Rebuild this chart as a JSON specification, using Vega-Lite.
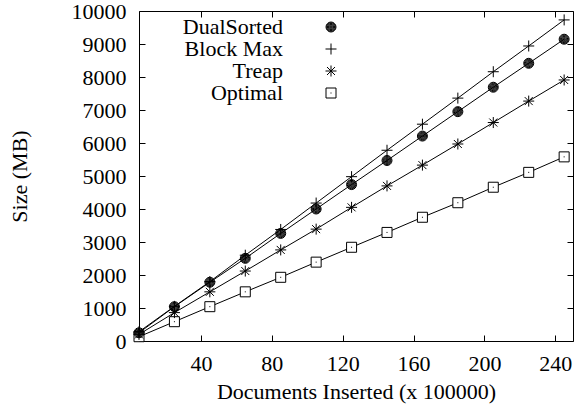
{
  "$schema": "https://vega.github.io/schema/vega-lite/v6.json",
  "width": 434,
  "height": 330,
  "autosize": {"type": "none"},
  "padding": {"left": 139, "top": 11, "right": 14, "bottom": 69},
  "background": "white",
  "config": {
    "view": {"stroke": "black", "strokeWidth": 1},
    "axis": {
      "labelFont": "Liberation Serif",
      "labelFontSize": 22,
      "labelColor": "black",
      "titleFont": "Liberation Serif",
      "titleFontSize": 22,
      "titleFontWeight": "normal",
      "titleColor": "black",
      "tickColor": "black",
      "tickSize": -6,
      "domain": false,
      "grid": false,
      "format": "d"
    }
  },
  "data": {
    "values": [
      {"x": 5, "series": "DualSorted", "y": 250},
      {"x": 25, "series": "DualSorted", "y": 1040},
      {"x": 45, "series": "DualSorted", "y": 1780},
      {"x": 65, "series": "DualSorted", "y": 2505},
      {"x": 85, "series": "DualSorted", "y": 3260},
      {"x": 105, "series": "DualSorted", "y": 4000},
      {"x": 125, "series": "DualSorted", "y": 4740},
      {"x": 145, "series": "DualSorted", "y": 5470},
      {"x": 165, "series": "DualSorted", "y": 6210},
      {"x": 185, "series": "DualSorted", "y": 6950},
      {"x": 205, "series": "DualSorted", "y": 7690},
      {"x": 225, "series": "DualSorted", "y": 8415},
      {"x": 245, "series": "DualSorted", "y": 9145},
      {"x": 5, "series": "Block Max", "y": 280},
      {"x": 25, "series": "Block Max", "y": 1050},
      {"x": 45, "series": "Block Max", "y": 1800},
      {"x": 65, "series": "Block Max", "y": 2600},
      {"x": 85, "series": "Block Max", "y": 3380},
      {"x": 105, "series": "Block Max", "y": 4180},
      {"x": 125, "series": "Block Max", "y": 4980},
      {"x": 145, "series": "Block Max", "y": 5780},
      {"x": 165, "series": "Block Max", "y": 6570},
      {"x": 185, "series": "Block Max", "y": 7360},
      {"x": 205, "series": "Block Max", "y": 8160},
      {"x": 225, "series": "Block Max", "y": 8940},
      {"x": 245, "series": "Block Max", "y": 9730},
      {"x": 5, "series": "Treap", "y": 200},
      {"x": 25, "series": "Treap", "y": 860},
      {"x": 45, "series": "Treap", "y": 1490},
      {"x": 65, "series": "Treap", "y": 2120},
      {"x": 85, "series": "Treap", "y": 2760},
      {"x": 105, "series": "Treap", "y": 3390},
      {"x": 125, "series": "Treap", "y": 4050},
      {"x": 145, "series": "Treap", "y": 4700},
      {"x": 165, "series": "Treap", "y": 5330},
      {"x": 185, "series": "Treap", "y": 5970},
      {"x": 205, "series": "Treap", "y": 6620},
      {"x": 225, "series": "Treap", "y": 7270},
      {"x": 245, "series": "Treap", "y": 7910},
      {"x": 5, "series": "Optimal", "y": 130},
      {"x": 25, "series": "Optimal", "y": 585},
      {"x": 45, "series": "Optimal", "y": 1040},
      {"x": 65, "series": "Optimal", "y": 1490},
      {"x": 85, "series": "Optimal", "y": 1930},
      {"x": 105, "series": "Optimal", "y": 2390},
      {"x": 125, "series": "Optimal", "y": 2840},
      {"x": 145, "series": "Optimal", "y": 3290},
      {"x": 165, "series": "Optimal", "y": 3750},
      {"x": 185, "series": "Optimal", "y": 4190},
      {"x": 205, "series": "Optimal", "y": 4660},
      {"x": 225, "series": "Optimal", "y": 5110},
      {"x": 245, "series": "Optimal", "y": 5580}
    ]
  },
  "resolve": {"axis": {"x": "independent", "y": "independent"}},
  "layer": [
    {
      "mark": {"type": "line", "color": "black", "strokeWidth": 1},
      "encoding": {
        "x": {
          "field": "x", "type": "quantitative",
          "scale": {"domain": [5, 250], "nice": false, "zero": false},
          "axis": {"orient": "bottom", "values": [40, 80, 120, 160, 200, 240], "title": "Documents Inserted (x 100000)", "labelPadding": 18, "titlePadding": 7}
        },
        "y": {
          "field": "y", "type": "quantitative",
          "scale": {"domain": [0, 10000], "nice": false},
          "axis": {"orient": "left", "values": [0, 1000, 2000, 3000, 4000, 5000, 6000, 7000, 8000, 9000, 10000], "title": "Size (MB)", "labelPadding": 19, "titlePadding": 40}
        },
        "detail": {"field": "series"}
      }
    },
    {
      "transform": [{"filter": "datum.series === 'Optimal'"}],
      "mark": {"type": "point", "shape": "square", "filled": true, "color": "white", "size": 100, "opacity": 1},
      "encoding": {
        "x": {"field": "x", "type": "quantitative", "axis": null},
        "y": {"field": "y", "type": "quantitative", "axis": null}
      }
    },
    {
      "mark": {"type": "point", "color": "black", "filled": false, "strokeWidth": 1, "size": 100, "opacity": 1},
      "encoding": {
        "x": {
          "field": "x", "type": "quantitative",
          "axis": {"orient": "top", "values": [40, 80, 120, 160, 200, 240], "labels": false, "title": null}
        },
        "y": {
          "field": "y", "type": "quantitative",
          "axis": {"orient": "right", "values": [0, 1000, 2000, 3000, 4000, 5000, 6000, 7000, 8000, 9000, 10000], "labels": false, "title": null}
        },
        "shape": {
          "field": "series", "type": "nominal",
          "scale": {
            "domain": ["DualSorted", "Block Max", "Treap", "Optimal"],
            "range": [
              "M1,0A1,1,0,1,1,-1,0A1,1,0,1,1,1,0M0.85,0A0.85,0.85,0,1,1,-0.85,0A0.85,0.85,0,1,1,0.85,0M0.7,0A0.7,0.7,0,1,1,-0.7,0A0.7,0.7,0,1,1,0.7,0M0.55,0A0.55,0.55,0,1,1,-0.55,0A0.55,0.55,0,1,1,0.55,0M0.4,0A0.4,0.4,0,1,1,-0.4,0A0.4,0.4,0,1,1,0.4,0M0.25,0A0.25,0.25,0,1,1,-0.25,0A0.25,0.25,0,1,1,0.25,0M0.1,0A0.1,0.1,0,1,1,-0.1,0A0.1,0.1,0,1,1,0.1,0",
              "M-1.1,0H1.1M0,-1.1V1.1",
              "M-1.1,0H1.1M0,-1.1V1.1M-0.8,-0.8L0.8,0.8M-0.8,0.8L0.8,-0.8",
              "M-1,-1H1V1H-1ZM-0.1,0H0.1"
            ]
          },
          "legend": {
            "orient": "none",
            "legendX": 134,
            "legendY": 5,
            "padding": 0,
            "title": null,
            "symbolOffset": 47,
            "labelAlign": "right",
            "labelOffset": -59,
            "rowPadding": 0,
            "labelFont": "Liberation Serif",
            "labelFontSize": 22,
            "labelColor": "black",
            "symbolSize": 100,
            "symbolStrokeWidth": 1,
            "symbolStrokeColor": "black"
          }
        }
      }
    }
  ]
}
